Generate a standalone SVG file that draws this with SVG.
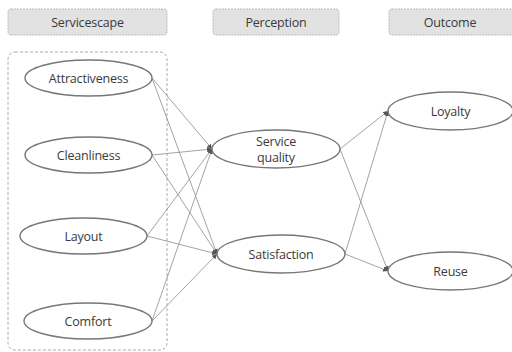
<svg xmlns="http://www.w3.org/2000/svg" width="512" height="352" viewBox="0 0 512 352">
<style>
.hdr{fill:#e2e2e2;stroke:#bbb;stroke-width:1;stroke-dasharray:2 1}
.node{fill:#fff;stroke:#777;stroke-width:1.4}
.t{font-family:"Open Sans","Noto Sans",sans-serif;font-size:12.5px;fill:#3a3a3a;text-anchor:middle;dominant-baseline:central;letter-spacing:-0.2px}
.c{stroke:#999;stroke-width:0.9;fill:none;marker-end:url(#ah)}
</style>
<defs>
<marker id="ah" viewBox="0 0 10 10" refX="10" refY="5" markerWidth="5" markerHeight="5" orient="auto" markerUnits="userSpaceOnUse">
<path d="M0,0 L10,5 L0,10 z" fill="#555"/>
</marker>
</defs>
<rect width="512" height="352" fill="#fff"/>
<g id="headers">
<g id="h-servicescape"><rect class="hdr" x="8" y="9" width="159" height="26" rx="3"/><text class="t" x="87.5" y="22">Servicescape</text></g>
<g id="h-perception"><rect class="hdr" x="213" y="9" width="126" height="26" rx="3"/><text class="t" x="276" y="22">Perception</text></g>
<g id="h-outcome"><rect class="hdr" x="389" y="9" width="126" height="26" rx="3"/><text class="t" x="450" y="22">Outcome</text></g>
</g>
<g id="container"><rect x="8" y="52" width="159" height="298" rx="7" fill="none" stroke="#aaa" stroke-width="1" stroke-dasharray="3 2"/></g>
<g id="connectors">
<line class="c" x1="152" y1="78" x2="212" y2="149"/>
<line class="c" x1="152" y1="78" x2="217" y2="254"/>
<line class="c" x1="152" y1="155" x2="212" y2="149"/>
<line class="c" x1="152" y1="155" x2="217" y2="254"/>
<line class="c" x1="147" y1="236" x2="212" y2="149"/>
<line class="c" x1="147" y1="236" x2="217" y2="254"/>
<line class="c" x1="152" y1="321" x2="212" y2="149"/>
<line class="c" x1="152" y1="321" x2="217" y2="254"/>
<line class="c" x1="340" y1="149" x2="388" y2="111"/>
<line class="c" x1="340" y1="149" x2="388" y2="271"/>
<line class="c" x1="345" y1="254" x2="388" y2="111"/>
<line class="c" x1="345" y1="254" x2="388" y2="271"/>
</g>
<g id="n-attractiveness"><ellipse class="node" cx="88.5" cy="78" rx="63.5" ry="18"/><text class="t" x="88.5" y="78">Attractiveness</text></g>
<g id="n-cleanliness"><ellipse class="node" cx="88.5" cy="155" rx="63.5" ry="18"/><text class="t" x="88.5" y="155">Cleanliness</text></g>
<g id="n-layout"><ellipse class="node" cx="83.5" cy="236" rx="63.5" ry="18"/><text class="t" x="83.5" y="236">Layout</text></g>
<g id="n-comfort"><ellipse class="node" cx="88" cy="321" rx="64" ry="18"/><text class="t" x="88" y="321">Comfort</text></g>
<g id="n-servicequality"><ellipse class="node" cx="276" cy="149" rx="64" ry="19"/><text class="t" x="276" y="141.5">Service</text><text class="t" x="276" y="157">quality</text></g>
<g id="n-satisfaction"><ellipse class="node" cx="281" cy="254" rx="64" ry="19"/><text class="t" x="281" y="254">Satisfaction</text></g>
<g id="n-loyalty"><ellipse class="node" cx="450.5" cy="111" rx="62.5" ry="19"/><text class="t" x="450.5" y="111">Loyalty</text></g>
<g id="n-reuse"><ellipse class="node" cx="450.5" cy="271" rx="62.5" ry="19"/><text class="t" x="450.5" y="271">Reuse</text></g>
</svg>
